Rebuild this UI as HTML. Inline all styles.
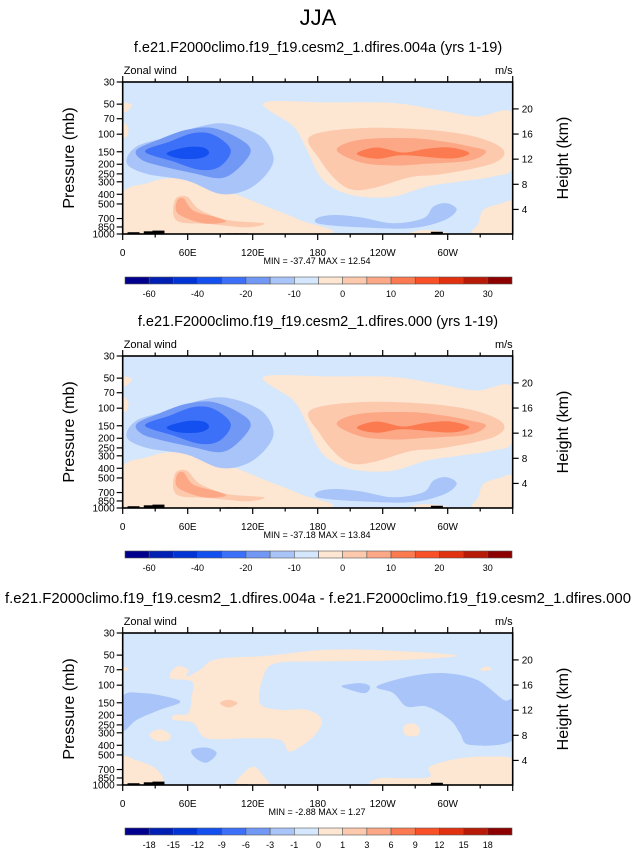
<!DOCTYPE html>
<html><head><meta charset="utf-8"><style>
html,body{margin:0;padding:0;background:#fff}
svg text{font-family:"Liberation Sans",Arial,sans-serif;fill:#000}
</style></head><body>
<svg id="fig" width="636" height="850" viewBox="0 0 636 850" xmlns="http://www.w3.org/2000/svg">
<text x="318" y="25" font-size="22" text-anchor="middle">JJA</text>
</svg>
<script>
// ---- data ----
const lonTicks = [0, 60, 120, 180, 240, 300];
const lonLabels = ["0", "60E", "120E", "180", "120W", "60W"];
const pTicks = [30, 50, 70, 100, 150, 200, 250, 300, 400, 500, 700, 850, 1000];
const kmTicks = [4, 8, 12, 16, 20];
const levels12 = ["-60", "-40", "-20", "-10", "0", "10", "20", "30"];
const levels12Pos = [1, 3, 5, 7, 9, 11, 13, 15];
const levels3 = ["-18","-15","-12","-9","-6","-3","-1","0","1","3","6","9","12","15","18"];
const levels3Pos = [1,2,3,4,5,6,7,8,9,10,11,12,13,14,15];
const titles = ["f.e21.F2000climo.f19_f19.cesm2_1.dfires.004a (yrs 1-19)",
  "f.e21.F2000climo.f19_f19.cesm2_1.dfires.000 (yrs 1-19)",
  "f.e21.F2000climo.f19_f19.cesm2_1.dfires.004a - f.e21.F2000climo.f19_f19.cesm2_1.dfires.000"];
const minmax = ["MIN = -37.47  MAX =  12.54", "MIN = -37.18  MAX =  13.84", "MIN = -2.88  MAX =  1.27"];
const palette = ["#00008c","#0020b4","#0034d4","#1450f0","#3c70f8","#7298f6","#a9c4f8","#d4e7fc",
  "#fde6d2","#fcc9ad","#fca886","#fc7a50","#fa5028","#e03210","#b81a08","#8c0000"];
// contour blobs: [colorIndex, points as [lon(deg), pressure(mb)] via digitized grid]
// digitized in (lonUnits, levelUnits): lon deg = (u-188)/3.25 ; pressure from level unit
const blobsMean = [
 [8, [[610,160],[800,158],[1000,160],[1140,182],[1250,200],[1358,190],[1358,350],[1300,380],[1200,395],[1100,410],[1000,440],[900,440],[830,420],[780,380],[740,300],[700,230]]],
 [8, [[188,430],[260,400],[330,385],[420,395],[520,430],[620,470],[720,510],[790,552],[188,552]]],
 [8, [[188,160],[215,165],[200,185],[188,185]]],
 [8, [[188,220],[205,235],[200,260],[188,262]]],
 [8, [[1270,480],[1320,462],[1358,458],[1358,552],[1240,552],[1255,520]]],
 [8, [[1060,545],[1100,540],[1160,548],[1060,552]]],
 [6, [[200,340],[230,290],[330,260],[420,230],[500,222],[600,258],[640,320],[620,372],[560,420],[480,432],[380,392],[260,372]]],
 [5, [[230,300],[300,268],[380,240],[460,235],[540,268],[572,305],[530,360],[480,385],[400,370],[300,348],[245,330]]],
 [4, [[255,305],[330,275],[400,250],[460,255],[512,300],[480,350],[420,360],[340,335]]],
 [3, [[320,310],[380,292],[430,293],[447,310],[420,325],[360,326]]],
 [9, [[750,260],[900,235],[1100,240],[1250,262],[1330,300],[1300,340],[1150,372],[1050,382],[950,412],[880,420],[830,392],[780,330]]],
 [10,[[830,300],[900,270],[1050,265],[1150,275],[1230,290],[1278,305],[1230,332],[1100,342],[1000,347],[900,337]]],
 [11,[[890,312],[950,293],[1030,308],[1100,297],[1170,293],[1228,310],[1170,326],[1030,316],[950,327]]],
 [9, [[345,450],[380,440],[420,480],[500,510],[612,520],[560,532],[450,522],[350,512]]],
 [10,[[350,455],[370,445],[400,482],[470,502],[497,516],[430,520],[355,492]]],
 [6, [[770,505],[820,495],[900,502],[1000,520],[1090,505],[1120,470],[1160,460],[1190,480],[1150,512],[1050,535],[900,532],[780,522]]]
];
const blobsDiff = [
 [8, [[330,232],[350,197],[385,207],[380,227],[420,207],[470,175],[620,165],[800,147],[1000,150],[1192,165],[1000,179],[800,182],[650,187],[610,227],[600,307],[660,327],[740,327],[785,357],[760,407],[690,452],[660,417],[560,412],[440,412],[400,367],[340,357],[345,342],[385,337],[395,287],[395,242]]],
 [9, [[480,307],[505,297],[532,307],[505,320]]],
 [8, [[268,400],[300,385],[330,400],[325,418],[290,420]]],
 [8, [[1032,375],[1060,368],[1080,385],[1070,405],[1035,402]]],
 [8, [[188,470],[230,478],[290,505],[305,552],[188,552]]],
 [8, [[540,527],[580,497],[610,525],[622,552],[530,552]]],
 [8, [[1110,497],[1200,472],[1300,467],[1358,477],[1358,552],[960,552],[960,532],[1050,532],[1110,527]]],
 [8, [[188,197],[205,205],[188,212]]],
 [8, [[1262,205],[1280,197],[1295,207],[1265,210]]],
 [6, [[188,287],[250,277],[330,290],[360,305],[300,327],[230,357],[188,387]]],
 [6, [[395,447],[440,440],[470,457],[440,485],[405,470]]],
 [6, [[845,255],[900,247],[930,257],[915,277],[870,267]]],
 [6, [[950,257],[1050,227],[1150,217],[1250,237],[1330,297],[1358,302],[1358,417],[1230,432],[1200,397],[1170,357],[1100,317],[1040,317],[1000,277]]]
];
const topo = [[10,1000,960],[25,1000,940],[33,1000,925],[100,1000,985],[110,1000,985],[290,1000,950]];

// ---- helpers ----
const svg = document.getElementById('fig');
const NS = "http://www.w3.org/2000/svg";
const X0 = 122.7, X1 = 512.7, H = 152;
function lonX(lon){ return X0 + lon/360*(X1-X0); }
function pY(top,p){ return top + Math.log(p/30)/Math.log(1000/30)*H; }
function uLon(u){ return (u-188)/3.25; }
function vP(v){ return 30*Math.exp((v-97)/455*Math.log(1000/30)); }
function mk(tag, attrs, parent){ const e=document.createElementNS(NS,tag); for(const k in attrs) e.setAttribute(k,attrs[k]); (parent||svg).appendChild(e); return e; }
function smooth(pts){
  const n=pts.length; let d=`M${pts[0][0].toFixed(1)},${pts[0][1].toFixed(1)}`;
  for(let i=0;i<n;i++){
    const p0=pts[(i-1+n)%n],p1=pts[i],p2=pts[(i+1)%n],p3=pts[(i+2)%n];
    const c1=[p1[0]+(p2[0]-p0[0])/6,p1[1]+(p2[1]-p0[1])/6];
    const c2=[p2[0]-(p3[0]-p1[0])/6,p2[1]-(p3[1]-p1[1])/6];
    d+=`C${c1[0].toFixed(1)},${c1[1].toFixed(1)} ${c2[0].toFixed(1)},${c2[1].toFixed(1)} ${p2[0].toFixed(1)},${p2[1].toFixed(1)}`;
  }
  return d+"Z";
}

function panel(idx, top, blobs, cbLabels, cbPos){
  const g = mk('g',{});
  
  
  const t = mk('text',{x:318,y:top-30,'font-size':14.5,'text-anchor':'middle'},g);
  if(idx===2){ t.setAttribute('textLength','626'); t.setAttribute('lengthAdjust','spacingAndGlyphs'); }
  t.textContent = titles[idx];
  
  
  const clipId='clip'+idx;
  const cp=mk('clipPath',{id:clipId},g); mk('rect',{x:X0,y:top,width:X1-X0,height:H},cp);
  const bg = mk('rect',{x:X0,y:top,width:X1-X0,height:H,fill:palette[7]},g);
  
  
  const cg = mk('g',{'clip-path':`url(#${clipId})`},g);
  blobs.forEach(b=>{
    const pts=b[1].map(q=>[lonX(uLon(q[0])), pY(top, vP(q[1]))]);
    const path=mk('path',{d:smooth(pts),fill:palette[b[0]]},cg);
    
    
  });
  topo.forEach(tp=>{
    const r=mk('rect',{x:lonX(tp[0])-6,y:pY(top,tp[2]),width:12,height:pY(top,tp[1])-pY(top,tp[2])+1,fill:'#000'},cg);
    
    
  });
  mk('rect',{x:X0,y:top,width:X1-X0,height:H,fill:'none',stroke:'#000','stroke-width':1.6},g);
  // x ticks
  for(let l=0;l<=360;l+=30){
    const x=lonX(l), major=l%60===0, len=major?6:3.5;
    mk('line',{x1:x,x2:x,y1:top,y2:top-len,stroke:'#000','stroke-width':1.2},g);
    mk('line',{x1:x,x2:x,y1:top+H,y2:top+H+len,stroke:'#000','stroke-width':1.2},g);
  }
  lonTicks.forEach((l,i)=>{
    const tx=mk('text',{x:lonX(l),y:top+H+22,'font-size':10,'text-anchor':'middle'},g);
    tx.textContent=lonLabels[i];
    
    
  });
  pTicks.forEach(p=>{
    const y=pY(top,p);
    mk('line',{x1:X0-6,x2:X0,y1:y,y2:y,stroke:'#000','stroke-width':1.2},g);
    const tx=mk('text',{x:X0-8,y:y+3.5,'font-size':10,'text-anchor':'end'},g);
    tx.textContent=p;
    
    
  });
  kmTicks.forEach(z=>{
    const y=pY(top,1013*Math.exp(-z/6.9));
    mk('line',{x1:X1,x2:X1+6,y1:y,y2:y,stroke:'#000','stroke-width':1.2},g);
    const tx=mk('text',{x:X1+9,y:y+3.5,'font-size':10},g);
    tx.textContent=z;
    
    
  });
  const zl=mk('text',{x:X0+1,y:top-8,'font-size':11},g); zl.textContent='Zonal wind';
  
  
  const ul=mk('text',{x:X1,y:top-8,'font-size':11,'text-anchor':'end'},g); ul.textContent='m/s';
  
  
  const yl=mk('text',{x:0,y:0,'font-size':16,'text-anchor':'middle',transform:`translate(74,${top+H/2}) rotate(-90)`},g);
  yl.textContent='Pressure (mb)';
  
  
  const hl=mk('text',{x:0,y:0,'font-size':16,'text-anchor':'middle',transform:`translate(568,${top+H/2}) rotate(-90)`},g);
  hl.textContent='Height (km)';
  
  
  const mm=mk('text',{x:317,y:top+H+30,'font-size':9,'text-anchor':'middle'},g);
  mm.textContent=minmax[idx];
  
  
  // colorbar
  const cbY=top+H+43, cbX=125, cbW=(512-125)/16;
  palette.forEach((c,i)=>{
    const r=mk('rect',{x:cbX+i*cbW,y:cbY,width:cbW,height:7,fill:c,stroke:'#555','stroke-width':0.6},g);
    
    
  });
  cbLabels.forEach((s,i)=>{
    const tx=mk('text',{x:cbX+cbPos[i]*cbW,y:cbY+20,'font-size':9,'text-anchor':'middle'},g);
    tx.textContent=s;
    
    
  });
}
panel(0, 82, blobsMean, levels12, levels12Pos);
panel(1, 356, blobsMean, levels12, levels12Pos);
panel(2, 633, blobsDiff, levels3, levels3Pos);
</script>
</body></html>
